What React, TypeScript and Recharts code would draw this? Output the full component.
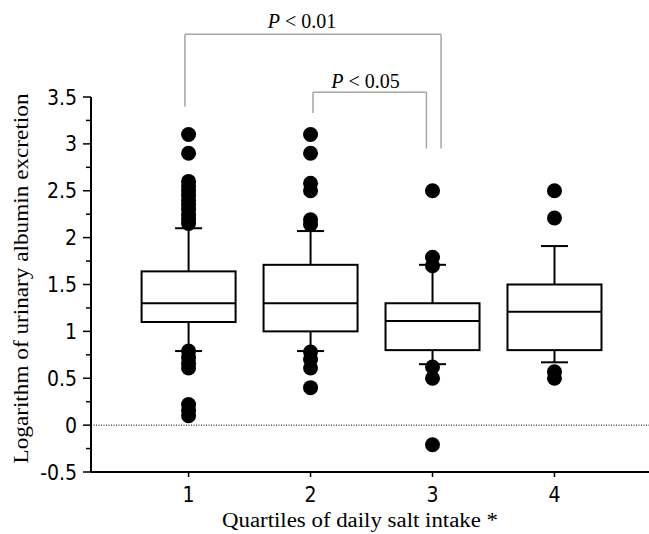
import React from 'react';
import { ComposedChart, Bar, Scatter, XAxis, YAxis, ReferenceLine, ReferenceDot, Label } from 'recharts';

const categories = [1, 2, 3, 4];
const whiskerLow = [0.79, 0.79, 0.65, 0.67];
const q1 = [1.1, 1.0, 0.8, 0.8];
const median = [1.3, 1.3, 1.11, 1.21];
const q3 = [1.64, 1.71, 1.3, 1.5];
const whiskerHigh = [2.1, 2.07, 1.71, 1.91];

const outliers1 = [3.1, 2.9, 2.6, 2.55, 2.5, 2.45, 2.4, 2.35, 2.3, 2.25, 2.2, 2.15, 0.79, 0.72, 0.66, 0.61, 0.22, 0.16, 0.1];
const outliers2 = [3.1, 2.9, 2.58, 2.5, 2.19, 2.14, 0.78, 0.7, 0.61, 0.4];
const outliers3 = [2.5, 1.79, 1.7, 0.62, 0.5, -0.21];
const outliers4 = [2.5, 2.21, 0.57, 0.5];
const outlierSets = [outliers1, outliers2, outliers3, outliers4];

const yMajorTicks = [-0.5, 0, 0.5, 1, 1.5, 2, 2.5, 3, 3.5];
const yMajorLabels = ['-0.5', '0', '0.5', '1', '1.5', '2', '2.5', '3', '3.5'];
const yMinorTicks = [-0.25, 0.25, 0.75, 1.25, 1.75, 2.25, 2.75, 3.25];
const xTickLabels = ['1', '2', '3', '4'];

const xTitle = 'Quartiles of daily salt intake *';
const yTitle = 'Logarithm of urinary albumin excretion';

const bracketLabels = ['0.01', '0.05'];
const bracketLeft = [0.97, 2.02];
const bracketRight = [3.07, 2.95];
const bracketTop = [4.17, 3.55];
const bracketLeftEnd = [3.4, 3.33];
const bracketRightEnd = [2.95, 2.95];
const bracketLabelX = [1.93, 2.45];
const bracketLabelY = [4.24, 3.6];

const boxData = categories.map((c, i) => ({
  x: c,
  wLow: whiskerLow[i],
  q1: q1[i],
  median: median[i],
  q3: q3[i],
  wHigh: whiskerHigh[i],
}));

const pointData = categories.flatMap((c, i) => outlierSets[i].map((v) => ({ x: c, y: v })));

const allYTicks = [...yMajorTicks, ...yMinorTicks].sort((a, b) => a - b);

const SANS = "'DejaVu Sans Condensed', 'DejaVu Sans', sans-serif";
const SERIF = "'Liberation Serif', 'Times New Roman', serif";

const BoxShape = (props: any) => {
  const { x, y, width, height, payload } = props;
  if (x == null || y == null || !payload) return null;
  const top = Math.min(y, y + height);
  const bot = Math.max(y, y + height);
  const span = payload.wHigh - payload.wLow;
  const py = (v: number) => top + ((payload.wHigh - v) / span) * (bot - top);
  const cx = x + width / 2;
  const capHalf = 13.5;
  const sw = 2;
  return (
    <g stroke="#000" strokeWidth={sw} fill="none">
      <line x1={cx} x2={cx} y1={py(payload.wHigh)} y2={py(payload.q3)} />
      <line x1={cx} x2={cx} y1={py(payload.q1)} y2={py(payload.wLow)} />
      <line x1={cx - capHalf} x2={cx + capHalf} y1={py(payload.wHigh)} y2={py(payload.wHigh)} />
      <line x1={cx - capHalf} x2={cx + capHalf} y1={py(payload.wLow)} y2={py(payload.wLow)} />
      <rect x={x} y={py(payload.q3)} width={width} height={py(payload.q1) - py(payload.q3)} fill="#fff" />
      <line x1={x} x2={x + width} y1={py(payload.median)} y2={py(payload.median)} />
    </g>
  );
};

const YTick = (props: any) => {
  const { x, y, payload } = props;
  const v = payload.value;
  const idx = yMajorTicks.indexOf(v);
  const major = idx >= 0;
  return (
    <g>
      <line x1={major ? x : x + 3} x2={x + 8} y1={y} y2={y} stroke="#000" strokeWidth={1.5} />
      {major && (
        <text x={x - 6} y={y} dy={7.5} textAnchor="end" fontFamily={SANS} fontStretch="condensed" fontSize={21} fill="#000">
          {yMajorLabels[idx]}
        </text>
      )}
    </g>
  );
};

const XTick = (props: any) => {
  const { x, y, payload } = props;
  const idx = categories.indexOf(payload.value);
  return (
    <text x={x} y={y} dy={25} textAnchor="middle" fontFamily={SANS} fontStretch="condensed" fontSize={21} fill="#000">
      {xTickLabels[idx]}
    </text>
  );
};

const XTitle = (props: any) => {
  const vb = props.viewBox || {};
  return (
    <text x={vb.x + vb.width / 2 - 10} y={vb.y + 55} textAnchor="middle" fontFamily={SERIF} fontSize={20} fill="#000" textLength={276} lengthAdjust="spacingAndGlyphs">
      {xTitle}
    </text>
  );
};

const YTitle = (props: any) => {
  const vb = props.viewBox || {};
  const cx = 28;
  const cy = vb.y + vb.height / 2 - 6;
  return (
    <text x={cx} y={cy} transform={`rotate(-90 ${cx} ${cy})`} textAnchor="middle" fontFamily={SERIF} fontSize={20} fill="#000" textLength={370} lengthAdjust="spacingAndGlyphs">
      {yTitle}
    </text>
  );
};

const makePLabel = (text: string) => (props: any) => {
  const vb = props.viewBox || {};
  const cx = vb.x + (vb.width || 0) / 2;
  const cy = vb.y + (vb.height || 0) / 2;
  return (
    <text x={cx} y={cy} textAnchor="middle" fontFamily={SERIF} fontSize={20} fill="#000">
      <tspan fontStyle="italic">P</tspan>
      {' < ' + text}
    </text>
  );
};

const dot = (props: any) => {
  const { cx, cy } = props;
  if (cx == null || cy == null) return null;
  return <circle cx={cx} cy={cy} r={7.5} fill="#000" />;
};

const BRACKET = '#a6a6a6';

export default function App() {
  return (
    <div style={{ position: 'absolute', left: 0, top: 0, background: '#fff' }}>
      <ComposedChart width={649} height={534} data={boxData} margin={{ top: 97, right: 0, bottom: 0, left: 0 }}>
        <XAxis
          dataKey="x"
          type="number"
          domain={[0.2, 4.775]}
          allowDataOverflow
          ticks={categories}
          interval={0}
          height={62}
          tickSize={5}
          tickMargin={0}
          axisLine={{ stroke: '#000', strokeWidth: 2 }}
          tickLine={{ stroke: '#000', strokeWidth: 1.5 }}
          tick={<XTick />}
        >
          <Label content={<XTitle />} />
        </XAxis>
        <YAxis
          type="number"
          domain={[-0.5, 3.5]}
          allowDataOverflow
          ticks={allYTicks}
          interval={0}
          width={91}
          tickSize={8}
          tickMargin={0}
          tickLine={false}
          axisLine={{ stroke: '#000', strokeWidth: 2 }}
          tick={<YTick />}
        >
          <Label content={<YTitle />} />
        </YAxis>
        <ReferenceLine y={0} stroke="#000" strokeWidth={1} strokeDasharray="1 1.5" />
        <Bar
          dataKey={(d: any) => [d.wLow, d.wHigh]}
          barSize={94}
          shape={<BoxShape />}
          isAnimationActive={false}
        />
        <Scatter data={pointData} dataKey="y" shape={dot} isAnimationActive={false} />
        {bracketLabels.map((lab, i) => (
          <React.Fragment key={lab}>
            <ReferenceLine
              ifOverflow="visible"
              segment={[{ x: bracketLeft[i], y: bracketLeftEnd[i] }, { x: bracketLeft[i], y: bracketTop[i] }]}
              stroke={BRACKET}
              strokeWidth={1.5}
            />
            <ReferenceLine
              ifOverflow="visible"
              segment={[{ x: bracketLeft[i], y: bracketTop[i] }, { x: bracketRight[i], y: bracketTop[i] }]}
              stroke={BRACKET}
              strokeWidth={1.5}
            />
            <ReferenceLine
              ifOverflow="visible"
              segment={[{ x: bracketRight[i], y: bracketTop[i] }, { x: bracketRight[i], y: bracketRightEnd[i] }]}
              stroke={BRACKET}
              strokeWidth={1.5}
            />
            <ReferenceDot
              ifOverflow="visible"
              x={bracketLabelX[i]}
              y={bracketLabelY[i]}
              r={1}
              fill="none"
              stroke="none"
              label={makePLabel(lab)}
            />
          </React.Fragment>
        ))}
      </ComposedChart>
    </div>
  );
}
